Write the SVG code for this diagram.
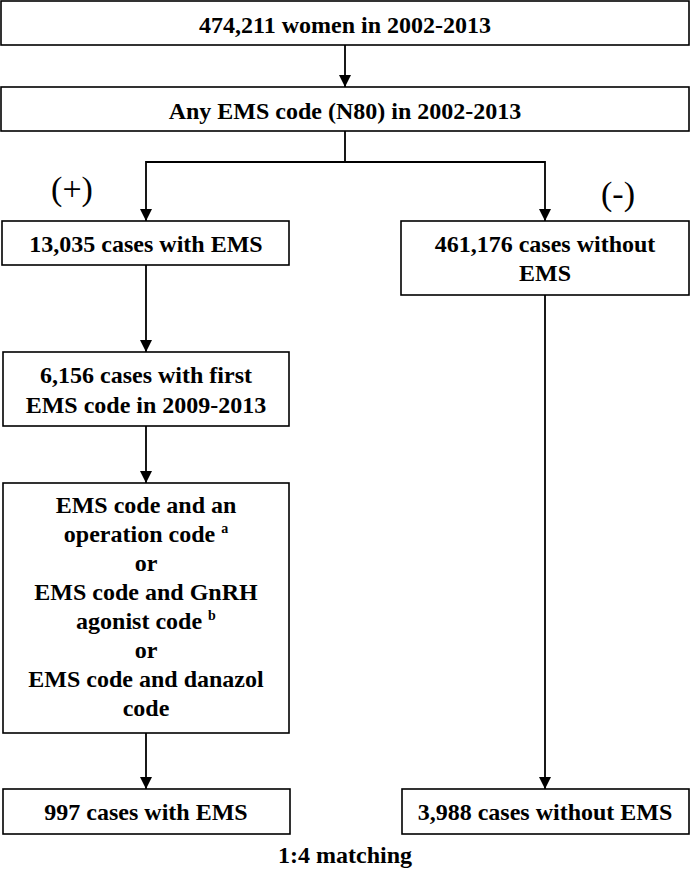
<svg xmlns="http://www.w3.org/2000/svg" width="691" height="871" viewBox="0 0 691 871">
<style>
.box{fill:#fff;stroke:#000;stroke-width:1.6}
.t{font-family:'Liberation Serif','Tinos','Times New Roman','DejaVu Serif',serif;font-weight:bold;font-size:24px;text-anchor:middle;fill:#000}
.s{font-family:'Liberation Serif','Tinos','Times New Roman','DejaVu Serif',serif;font-weight:normal;font-size:34px;text-anchor:middle;fill:#000}
.sup{font-size:14px}
.c{fill:none;stroke:#000;stroke-width:1.8}
</style>
<defs>
<marker id="ah" markerWidth="12" markerHeight="13" refX="12" refY="6" orient="auto" markerUnits="userSpaceOnUse">
<path d="M0,0 L12,6 L0,12 Z" fill="#000"/>
</marker>
</defs>
<g id="connectors">
<line class="c" x1="345" y1="45" x2="345" y2="87" marker-end="url(#ah)"/>
<polyline class="c" points="345,131 345,162 146,162 146,221" marker-end="url(#ah)"/>
<polyline class="c" points="345,162 545,162 545,221" marker-end="url(#ah)"/>
<line class="c" x1="146" y1="265" x2="146" y2="352" marker-end="url(#ah)"/>
<line class="c" x1="146" y1="426" x2="146" y2="483" marker-end="url(#ah)"/>
<line class="c" x1="146" y1="733" x2="146" y2="789" marker-end="url(#ah)"/>
<line class="c" x1="545" y1="295" x2="545" y2="789" marker-end="url(#ah)"/>
</g>
<g id="n1"><rect class="box" x="1" y="1" width="688" height="44"/><text class="t" x="345" y="33">474,211 women in 2002-2013</text></g>
<g id="n2"><rect class="box" x="1" y="87" width="688" height="44"/><text class="t" x="345" y="119">Any EMS code (N80) in 2002-2013</text></g>
<g id="plus"><text class="s" x="72" y="200">(+)</text></g>
<g id="minus"><text class="s" x="618" y="205">(-)</text></g>
<g id="n3"><rect class="box" x="2" y="221" width="287" height="44"/><text class="t" x="146" y="252">13,035 cases with EMS</text></g>
<g id="n4"><rect class="box" x="401" y="221" width="288" height="74"/><text class="t" x="545" y="252">461,176 cases without</text><text class="t" x="545" y="281">EMS</text></g>
<g id="n5"><rect class="box" x="3" y="352" width="286" height="74"/><text class="t" x="146" y="383">6,156 cases with first</text><text class="t" x="146" y="413">EMS code in 2009-2013</text></g>
<g id="n6"><rect class="box" x="3" y="483" width="286" height="250"/>
<text class="t" x="146" y="513">EMS code and an</text>
<text class="t" x="146" y="542">operation code <tspan class="sup" dy="-9">a</tspan></text>
<text class="t" x="146" y="571">or</text>
<text class="t" x="146" y="600">EMS code and GnRH</text>
<text class="t" x="146" y="629">agonist code <tspan class="sup" dy="-9">b</tspan></text>
<text class="t" x="146" y="658">or</text>
<text class="t" x="146" y="687">EMS code and danazol</text>
<text class="t" x="146" y="716">code</text>
</g>
<g id="n7"><rect class="box" x="3" y="789" width="287" height="45"/><text class="t" x="146" y="820">997 cases with EMS</text></g>
<g id="n8"><rect class="box" x="402" y="789" width="287" height="45"/><text class="t" x="545" y="820">3,988 cases without EMS</text></g>
<g id="note"><text class="t" x="345" y="863">1:4 matching</text></g>
</svg>
